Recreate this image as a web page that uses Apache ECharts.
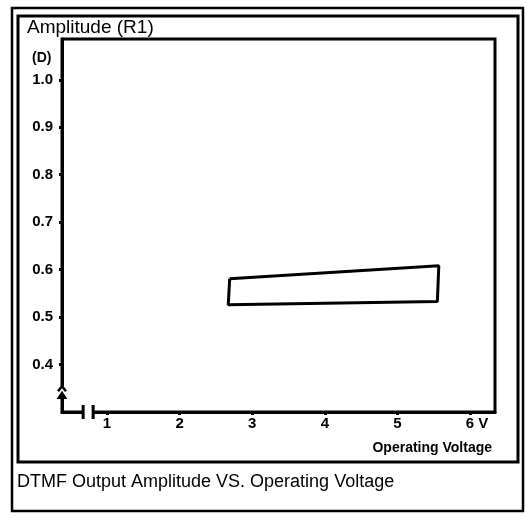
<!DOCTYPE html>
<html>
<head>
<meta charset="utf-8">
<script src="https://cdn.jsdelivr.net/npm/echarts@6/dist/echarts.min.js"></script>
<style>
	body { margin: 0; background: #fff; }
	#main { width: 526px; height: 518px; }
</style>
</head>
<body>
<div id="main"></div>
<script>
// voltage ticks (V) and amplitude ticks (D)
var xTicks = [1, 2, 3, 4, 5, 6];
var yTicks = [0.4, 0.5, 0.6, 0.7, 0.8, 0.9, 1.0];

// outline of the output amplitude band, closed back on the first corner
var bandVoltage = [2.69, 5.57, 5.55, 2.67, 2.69];
var bandAmplitude = [0.581, 0.608, 0.533, 0.526, 0.581];

var FONT = 'Liberation Sans';
var X_MIN = 0.38, X_MAX = 6.344;
var Y_MIN = 0.3, Y_MAX = 1.086;

var myChart;
var option = {};

function buildBand() {
	var pts = [];
	for (var i = 0; i < bandVoltage.length; i++) {
		pts.push([bandVoltage[i], bandAmplitude[i]]);
	}
	return pts;
}

function initChart() {
	myChart = echarts.init(document.getElementById('main'), null, { renderer: 'canvas' });
	option = {
		animation: false,
		backgroundColor: '#fff',
		title: [
			{ text: 'Amplitude (R1)', left: 27, top: 18, padding: 0,
				textStyle: { fontFamily: FONT, fontSize: 19, fontWeight: 'normal', color: '#000' } },
			{ text: '(D)', left: 32, top: 51, padding: 0,
				textStyle: { fontFamily: FONT, fontSize: 14, fontWeight: 'bold', color: '#000' } },
			{ text: 'Operating Voltage', right: 34, top: 441, padding: 0,
				textStyle: { fontFamily: FONT, fontSize: 14, fontWeight: 'bold', color: '#000' } },
			{ text: 'DTMF Output Amplitude VS. Operating Voltage', left: 17, top: 473, padding: 0,
				textStyle: { fontFamily: FONT, fontSize: 18, fontWeight: 'normal', color: '#000' } }
		],
		grid: {
			left: 62, top: 39, right: 31, bottom: 106,
			show: true, borderColor: '#000', borderWidth: 3, backgroundColor: 'transparent'
		},
		xAxis: {
			type: 'value', min: X_MIN, max: X_MAX,
			splitLine: { show: false },
			axisLine: { onZero: false, lineStyle: { color: '#000', width: 3 } },
			axisTick: { customValues: xTicks, length: 3, lineStyle: { color: '#000', width: 3 } },
			axisLabel: {
				customValues: xTicks, margin: 4, color: '#000',
				fontFamily: FONT, fontSize: 15, fontWeight: 'bold',
				formatter: function (v) {
					if (v === 6) return '{v|6 V}';
					return String(v);
				},
				rich: { v: { fontFamily: FONT, fontSize: 15, fontWeight: 'bold', color: '#000', padding: [0, 0, 0, 14] } }
			}
		},
		yAxis: {
			type: 'value', min: Y_MIN, max: Y_MAX,
			splitLine: { show: false },
			axisLine: { onZero: false, lineStyle: { color: '#000', width: 3 } },
			axisTick: { customValues: yTicks, length: 3, lineStyle: { color: '#000', width: 3 } },
			axisLabel: {
				customValues: yTicks, margin: 9, color: '#000',
				fontFamily: FONT, fontSize: 15, fontWeight: 'bold',
				formatter: function (v) { return v.toFixed(1); }
			}
		},
		series: [{
			name: 'Amplitude',
			type: 'line',
			data: buildBand(),
			symbol: 'none',
			lineStyle: { color: '#000', width: 3 },
			z: 5
		}]
	};
	myChart.setOption(option);
	drawDecor();
}

// frames and the axis break marks
function drawDecor() {
	var o = myChart.convertToPixel({ gridIndex: 0 }, [X_MIN, Y_MIN]);
	var bx = myChart.convertToPixel({ gridIndex: 0 }, [0.74, Y_MIN])[0];
	var by = myChart.convertToPixel({ gridIndex: 0 }, [X_MIN, 0.348])[1];
	var black = { stroke: '#000', fill: null, lineWidth: 3 };
	myChart.setOption({
		graphic: [
			{ type: 'rect', z: 100, shape: { x: 12, y: 8, width: 511, height: 503 }, style: { stroke: '#000', fill: null, lineWidth: 2.5 } },
			{ type: 'rect', z: 100, shape: { x: 18, y: 16, width: 500, height: 446 }, style: black },
			// x axis break
			{ type: 'rect', z: 100, shape: { x: bx - 5, y: o[1] - 4, width: 10, height: 8 }, style: { fill: '#fff' } },
			{ type: 'line', z: 101, shape: { x1: bx - 5, y1: o[1] - 7, x2: bx - 5, y2: o[1] + 7 }, style: black },
			{ type: 'line', z: 101, shape: { x1: bx + 5, y1: o[1] - 7, x2: bx + 5, y2: o[1] + 7 }, style: black },
			// y axis break
			{ type: 'rect', z: 100, shape: { x: o[0] - 6, y: by - 3, width: 12, height: 9 }, style: { fill: '#fff' } },
			{ type: 'polyline', z: 101, shape: { points: [[o[0] - 4, by + 2], [o[0], by - 3], [o[0] + 4, by + 2]] }, style: { stroke: '#000', fill: null, lineWidth: 2.5 } },
			{ type: 'polygon', z: 101, shape: { points: [[o[0] - 4, by + 9], [o[0], by + 3], [o[0] + 4, by + 9]] }, style: { fill: '#000', stroke: '#000', lineWidth: 1.5 } }
		]
	});
}

initChart();
</script>
</body>
</html>
